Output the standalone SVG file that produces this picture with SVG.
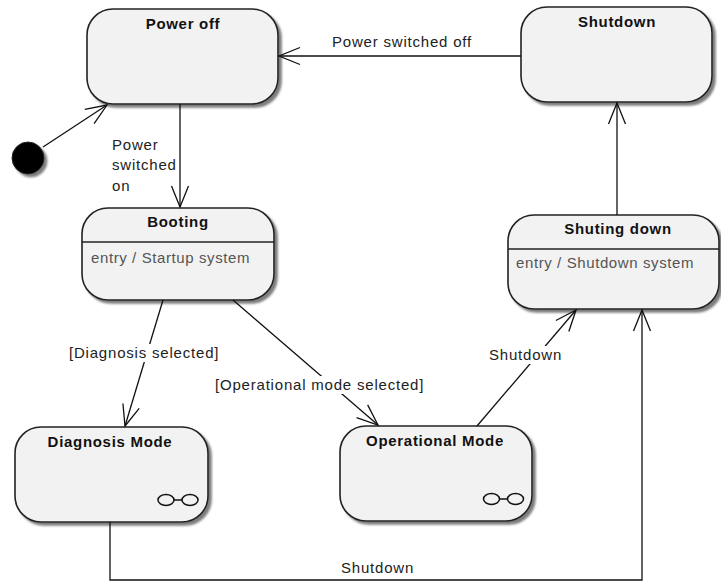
<svg xmlns="http://www.w3.org/2000/svg" width="721" height="582" viewBox="0 0 721 582">
<defs>
<filter id="sh" x="-10%" y="-10%" width="130%" height="130%">
<feDropShadow dx="3" dy="3" stdDeviation="1.2" flood-color="#666" flood-opacity="0.85"/>
</filter>
<marker id="arr" markerUnits="userSpaceOnUse" markerWidth="30" markerHeight="30" refX="0" refY="0" viewBox="-24 -12 30 24" orient="auto" overflow="visible">
<path d="M-21,-8.5 L0,0 L-21,8.5" fill="none" stroke="#111" stroke-width="1.3"/>
</marker>
</defs>
<style>
.st{fill:#f2f2f2;stroke:#222;stroke-width:1.6;filter:url(#sh)}
.ttl{font-family:"Liberation Sans",Arial,sans-serif;font-size:15px;font-weight:bold;fill:#111;text-anchor:middle;letter-spacing:0.7px}
.lbl{font-family:"Liberation Sans",Arial,sans-serif;font-size:15px;fill:#222;letter-spacing:0.8px}
.ent{font-family:"Liberation Sans",Arial,sans-serif;font-size:15px;fill:#555;letter-spacing:0.6px}
.div{stroke:#222;stroke-width:1.4}
.con{fill:none;stroke:#111;stroke-width:1.3}
.ico{fill:none;stroke:#111;stroke-width:1.5}
.bg{fill:#fff}
</style>

<g id="initial">
<circle cx="28" cy="158" r="16" fill="#000" stroke="#222" stroke-width="1" filter="url(#sh)"/>
</g>

<g id="power-off">
<rect class="st" x="87" y="9" width="191" height="95" rx="26" ry="26"/>
<text class="ttl" x="183" y="29">Power off</text>
</g>

<g id="shutdown">
<rect class="st" x="521" y="7" width="191" height="95" rx="26" ry="26"/>
<text class="ttl" x="617" y="27">Shutdown</text>
</g>

<g id="booting">
<rect class="st" x="82" y="208" width="192" height="92" rx="26" ry="26"/>
<line class="div" x1="82" y1="242" x2="274" y2="242"/>
<text class="ttl" x="178" y="227">Booting</text>
<text class="ent" x="91" y="263">entry / Startup system</text>
</g>

<g id="shuting-down">
<rect class="st" x="508" y="215" width="211" height="94" rx="26" ry="26"/>
<line class="div" x1="508" y1="249" x2="719" y2="249"/>
<text class="ttl" x="618" y="234">Shuting down</text>
<text class="ent" x="516" y="268">entry / Shutdown system</text>
</g>

<g id="diagnosis-mode">
<rect class="st" x="15" y="427" width="193" height="95" rx="26" ry="26"/>
<text class="ttl" x="110" y="447">Diagnosis Mode</text>
<ellipse class="ico" cx="166" cy="500" rx="8" ry="5.5"/>
<ellipse class="ico" cx="190" cy="500" rx="8" ry="5.5"/>
<line class="ico" x1="174" y1="500" x2="182" y2="500"/>
</g>

<g id="operational-mode">
<rect class="st" x="340" y="426" width="192" height="95" rx="26" ry="26"/>
<text class="ttl" x="435" y="446">Operational Mode</text>
<ellipse class="ico" cx="491.5" cy="499" rx="8" ry="5.5"/>
<ellipse class="ico" cx="515.5" cy="499" rx="8" ry="5.5"/>
<line class="ico" x1="499.5" y1="499" x2="507.5" y2="499"/>
</g>

<g id="connectors">
<line class="con" x1="43" y1="147" x2="107" y2="105" marker-end="url(#arr)"/>
<line class="con" x1="180" y1="104" x2="180" y2="207" marker-end="url(#arr)"/>
<line class="con" x1="521" y1="56" x2="279" y2="56" marker-end="url(#arr)"/>
<line class="con" x1="617" y1="215" x2="617" y2="103" marker-end="url(#arr)"/>
<line class="con" x1="163" y1="300" x2="125" y2="426" marker-end="url(#arr)"/>
<line class="con" x1="233" y1="300" x2="378" y2="425" marker-end="url(#arr)"/>
<line class="con" x1="477" y1="426" x2="576" y2="310" marker-end="url(#arr)"/>
<polyline class="con" points="110,522 110,580 642,580 642,310" marker-end="url(#arr)"/>

<text class="lbl" x="332" y="47">Power switched off</text>
<text class="lbl" x="112" y="150">Power</text>
<text class="lbl" x="112" y="170">switched</text>
<text class="lbl" x="112" y="191">on</text>
<rect class="bg" x="68" y="344" width="152" height="18"/>
<text class="lbl" x="69" y="358">[Diagnosis selected]</text>
<rect class="bg" x="213" y="376" width="218" height="18"/>
<text class="lbl" x="215" y="390">[Operational mode selected]</text>
<rect class="bg" x="487" y="346" width="78" height="18"/>
<text class="lbl" x="489" y="360">Shutdown</text>
<text class="lbl" x="341" y="573">Shutdown</text>
</g>
</svg>
